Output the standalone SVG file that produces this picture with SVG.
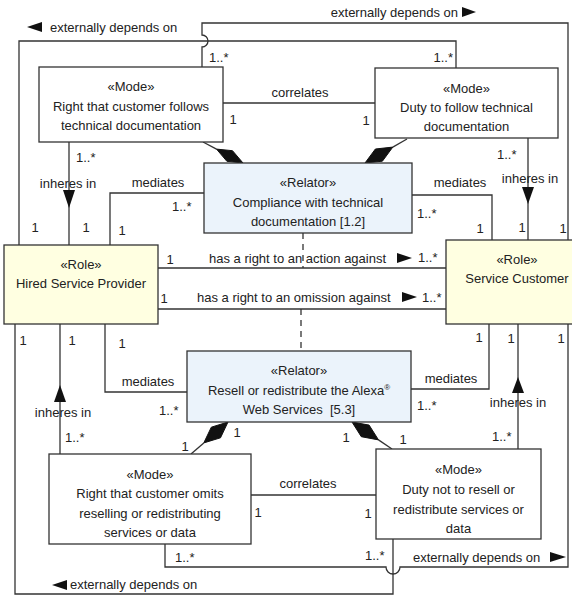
<svg xmlns="http://www.w3.org/2000/svg" width="572" height="596" viewBox="0 0 572 596">
  <style>
    .box { stroke: #333; stroke-width: 1.3; }
    .mode { fill: #ffffff; }
    .relator { fill: #ebf3fb; }
    .role { fill: #ffffe1; }
    .conn { fill: none; stroke: #333; stroke-width: 1.3; }
    .dash { stroke-dasharray: 6 5; }
    .head { fill: #111; stroke: none; }
    .dia { fill: #111; stroke: #111; stroke-width: 1; }
    text { font-family: "Liberation Sans", Arial, sans-serif; font-size: 13px; fill: #222; }
    .c { text-anchor: middle; }
    .e { text-anchor: end; }
  </style>
  <rect width="572" height="596" fill="#ffffff"/>

  <!-- associations, mediations, characterizations, material relations -->
  <g id="connectors">
    <!-- externally depends on: Right-follows mode -> Service Customer (with line hop) -->
    <path class="conn" d="M202,67 V47 A6,6 0 0 0 202,35 V23 H568 V240"/>
    <!-- externally depends on: Duty-to-follow mode -> Hired Service Provider -->
    <path class="conn" d="M456,68 V41 H19 V245"/>
    <!-- externally depends on: Right-omits mode -> Service Customer (with line hop) -->
    <path class="conn" d="M165,544 V567 H386 A7,7 0 0 0 400,567 H568 V324"/>
    <!-- externally depends on: Duty-not-to-resell mode -> Hired Service Provider -->
    <path class="conn" d="M393,539 V594 H15 V324"/>

    <!-- correlates -->
    <path class="conn" d="M223,103 H375"/>
    <path class="conn" d="M251,495 H376"/>

    <!-- inheres in -->
    <path class="conn" d="M69,142 V245"/>
    <polygon class="head" points="63,190 75,190 69,208"/>
    <path class="conn" d="M528,138 V240"/>
    <polygon class="head" points="522,187 534,187 528,204"/>
    <path class="conn" d="M60,454 V324"/>
    <polygon class="head" points="54,402 66,402 60,385"/>
    <path class="conn" d="M518,449 V324"/>
    <polygon class="head" points="512,393 524,393 518,377"/>

    <!-- mediates -->
    <path class="conn" d="M204,193 H110 V245"/>
    <path class="conn" d="M412,195 H492 V240"/>
    <path class="conn" d="M105,324 V392 H187"/>
    <path class="conn" d="M411,389 H489 V324"/>

    <!-- material relations between the roles -->
    <path class="conn" d="M158,268 H446"/>
    <path class="conn" d="M158,309 H446"/>
    <path class="conn dash" d="M303,233 V268"/>
    <path class="conn dash" d="M301,309 V351"/>

    <!-- composition: relators made of modes -->
    <path class="conn" d="M216.5,149.1 L203,142"/>
    <polygon class="dia" points="243,163 232.5,150.7 216.5,149.1 226.9,161.3"/>
    <path class="conn" d="M392.8,147.1 L407,139"/>
    <polygon class="dia" points="365,163 375.4,149 392.8,147.1 382.4,161.2"/>
    <path class="conn" d="M203.8,442.9 L191,454"/>
    <polygon class="dia" points="228,422 220.5,437.8 203.8,442.9 211.3,427.2"/>
    <path class="conn" d="M378.5,439.9 L392,449"/>
    <polygon class="dia" points="352,422 361.3,436.7 378.5,439.9 369.1,425.1"/>

    <!-- relation names -->
    <polygon class="head" points="27,27 42,22 42,32"/>
    <text x="50" y="31.5">externally depends on</text>
    <text class="e" x="458" y="16.5">externally depends on</text>
    <polygon class="head" points="462,7 462,17 476,12"/>
    <text class="c" x="300" y="96.5">correlates</text>
    <text class="c" x="68" y="187.5">inheres in</text>
    <text class="c" x="158" y="186.5">mediates</text>
    <text class="c" x="460" y="186.5">mediates</text>
    <text class="c" x="530" y="182.5">inheres in</text>
    <text x="209" y="262.5">has a right to an action against</text>
    <polygon class="head" points="397,253 397,263 412,258"/>
    <text x="197" y="301.5">has a right to an omission against</text>
    <polygon class="head" points="402,292 402,302 417,297"/>
    <text class="c" x="148" y="385.5">mediates</text>
    <text class="c" x="451" y="382.5">mediates</text>
    <text class="c" x="63" y="416.5">inheres in</text>
    <text class="c" x="518" y="406.5">inheres in</text>
    <text class="c" x="308" y="487.5">correlates</text>
    <text x="413" y="561.5">externally depends on</text>
    <polygon class="head" points="550,552 550,562 566,557"/>
    <polygon class="head" points="52,585 67,580 67,590"/>
    <text x="70" y="589">externally depends on</text>

    <!-- multiplicities -->
    <text x="209" y="61.5">1..*</text>
    <text class="e" x="453" y="61.5">1..*</text>
    <text class="c" x="233" y="123.5">1</text>
    <text class="c" x="366" y="124.5">1</text>
    <text x="76" y="162">1..*</text>
    <text x="497" y="159">1..*</text>
    <text x="172" y="210.5">1..*</text>
    <text x="417" y="217.5">1..*</text>
    <text class="c" x="35" y="231.5">1</text>
    <text class="c" x="86" y="231.5">1</text>
    <text class="c" x="122" y="234.5">1</text>
    <text class="c" x="480" y="232.5">1</text>
    <text class="c" x="522" y="231.5">1</text>
    <text class="c" x="563" y="232.5">1</text>
    <text class="c" x="170" y="263.5">1</text>
    <text x="418" y="261.5">1..*</text>
    <text class="c" x="164" y="302.5">1</text>
    <text x="422" y="301.5">1..*</text>
    <text class="c" x="23" y="344.5">1</text>
    <text class="c" x="72" y="344.5">1</text>
    <text class="c" x="122" y="347.5">1</text>
    <text class="c" x="479" y="341.5">1</text>
    <text class="c" x="511" y="342.5">1</text>
    <text class="c" x="561" y="342.5">1</text>
    <text x="159" y="414.5">1..*</text>
    <text x="417" y="409.5">1..*</text>
    <text class="c" x="237" y="436.5">1</text>
    <text class="c" x="185" y="450.5">1</text>
    <text class="c" x="346" y="441.5">1</text>
    <text class="c" x="403" y="443.5">1</text>
    <text x="65" y="441.5">1..*</text>
    <text x="492" y="440.5">1..*</text>
    <text class="c" x="258" y="516.5">1</text>
    <text class="c" x="368" y="517.5">1</text>
    <text x="175" y="561.5">1..*</text>
    <text x="365" y="559.5">1..*</text>
  </g>

  <g id="mode-right-follows">
    <rect class="box mode" x="39" y="67" width="184" height="75"/>
    <text class="c" x="131" y="90.5">«Mode»</text>
    <text class="c" x="131" y="110.5">Right that customer follows</text>
    <text class="c" x="131" y="129.5">technical documentation</text>
  </g>

  <g id="mode-duty-follow">
    <rect class="box mode" x="375" y="68" width="183" height="70"/>
    <text class="c" x="466.5" y="92.5">«Mode»</text>
    <text class="c" x="466.5" y="111.5">Duty to follow technical</text>
    <text class="c" x="466.5" y="131">documentation</text>
  </g>

  <g id="relator-compliance">
    <rect class="box relator" x="204" y="163" width="208" height="70"/>
    <text class="c" x="308" y="186.5">«Relator»</text>
    <text class="c" x="308" y="206.5">Compliance with technical</text>
    <text class="c" x="308" y="225.5">documentation [1.2]</text>
  </g>

  <g id="role-provider">
    <rect class="box role" x="4" y="245" width="154" height="79"/>
    <text class="c" x="81" y="268.5">«Role»</text>
    <text class="c" x="81" y="287.5">Hired Service Provider</text>
  </g>

  <g id="role-customer">
    <rect class="box role" x="446" y="240" width="142" height="84"/>
    <text class="c" x="517" y="263.5">«Role»</text>
    <text class="c" x="517" y="282.5">Service Customer</text>
  </g>

  <g id="relator-resell">
    <rect class="box relator" x="187" y="351" width="224" height="71"/>
    <text class="c" x="299" y="374.5">«Relator»</text>
    <text class="c" x="299" y="394.5">Resell or redistribute the Alexa<tspan font-size="8" dy="-5">®</tspan></text>
    <text class="c" x="299" y="413.5">Web Services&#160; [5.3]</text>
  </g>

  <g id="mode-right-omits">
    <rect class="box mode" x="49" y="454" width="202" height="90"/>
    <text class="c" x="150" y="478.5">«Mode»</text>
    <text class="c" x="150" y="497.5">Right that customer omits</text>
    <text class="c" x="150" y="517.5">reselling or redistributing</text>
    <text class="c" x="150" y="536.5">services or data</text>
  </g>

  <g id="mode-duty-not-resell">
    <rect class="box mode" x="376" y="449" width="165" height="90"/>
    <text class="c" x="458.5" y="473.5">«Mode»</text>
    <text class="c" x="458.5" y="493.5">Duty not to resell or</text>
    <text class="c" x="458.5" y="513.5">redistribute services or</text>
    <text class="c" x="458.5" y="532.5">data</text>
  </g>
</svg>
